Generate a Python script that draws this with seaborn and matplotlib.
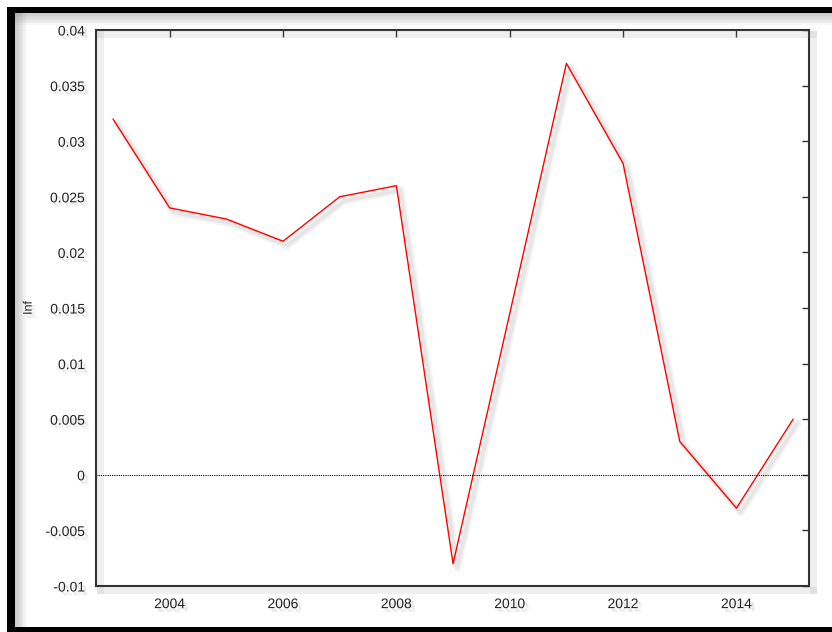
import numpy as np
import pandas as pd
import matplotlib
matplotlib.use("Agg")
import matplotlib.pyplot as plt
import matplotlib.patheffects as pe
from matplotlib.patches import Rectangle
import seaborn as sns

years = [2003, 2004, 2005, 2006, 2007, 2008, 2009, 2010, 2011, 2012, 2013, 2014, 2015]
inf = [0.032, 0.024, 0.023, 0.021, 0.025, 0.026, -0.008, 0.0145, 0.037, 0.028, 0.003, -0.003, 0.005]
x_ticks = [2004, 2006, 2008, 2010, 2012, 2014]
y_ticks = [-0.01, -0.005, 0, 0.005, 0.01, 0.015, 0.02, 0.025, 0.03, 0.035, 0.04]
y_tick_labels = ["-0.01", "-0.005", "0", "0.005", "0.01", "0.015", "0.02", "0.025", "0.03", "0.035", "0.04"]
y_label = "Inf"

df = pd.DataFrame({"year": years, "inf": inf})

sns.set_style("white")
plt.rcParams["font.family"] = ["Liberation Sans", "DejaVu Sans"]

W, H = 832, 632
fig = plt.figure(figsize=(W / 100, H / 100), dpi=100)
fig.patch.set_facecolor("white")

# black frame with soft shadows
def frect(x0, y0, x1, y1, **kw):
    fig.patches.append(Rectangle((x0 / W, 1 - y1 / H), (x1 - x0) / W, (y1 - y0) / H,
                                 transform=fig.transFigure, figure=fig, **kw))

for i in range(8):
    a = 0.06
    frect(15, 13, W, 14 + i * 1.5, facecolor="gray", alpha=a, lw=0)
    frect(15, 13, 16 + i * 1.5, 627, facecolor="gray", alpha=a, lw=0)
frect(7, 7, W, 13, facecolor="black", lw=0)
frect(7, 7, 15, H, facecolor="black", lw=0)
frect(7, 627, W, H, facecolor="black", lw=0)

ax = fig.add_axes([96 / W, (H - 586) / H, (809 - 96) / W, (586 - 30) / H])
ax.set_facecolor("white")

shadow_line = [pe.SimpleLineShadow(offset=(3, -3), shadow_color="gray", alpha=0.08, linewidth=6),
               pe.SimpleLineShadow(offset=(3, -3), shadow_color="gray", alpha=0.12, linewidth=3),
               pe.Normal()]

sns.lineplot(data=df, x="year", y="inf", ax=ax, color="red", linewidth=1.0,
             path_effects=shadow_line)
ax.axhline(0, color="black", linewidth=0.8, linestyle=(0, (1, 1)))

ax.set_xlim(2002.7, 2015.28)
ax.set_ylim(-0.01, 0.04)
ax.set_xticks(x_ticks)
ax.set_xticklabels([str(v) for v in x_ticks])
ax.set_yticks(y_ticks)
ax.set_yticklabels(y_tick_labels)
ax.set_xlabel("")
ax.set_ylabel(y_label, fontsize=9)
ax.yaxis.set_label_coords(-0.086, 0.5)

ax.tick_params(direction="in", length=5, width=1, color="#333333",
               top=True, right=True, labelsize=10, pad=8, labelcolor="#222222")

for s in ax.spines.values():
    s.set_visible(True)
    s.set_color("#333333")
    s.set_linewidth(1.5)
    s.set_path_effects([pe.SimpleLineShadow(offset=(3, -3), shadow_color="gray", alpha=0.12, linewidth=5),
                        pe.Normal()])

text_shadow = [pe.SimplePatchShadow(offset=(3, -3), shadow_rgbFace="gray", alpha=0.12),
               pe.SimplePatchShadow(offset=(2, -2), shadow_rgbFace="gray", alpha=0.18),
               pe.Normal()]
for t in ax.get_xticklabels() + ax.get_yticklabels() + [ax.yaxis.label]:
    t.set_path_effects(text_shadow)

fig.savefig("out.png", dpi=100, facecolor="white")
